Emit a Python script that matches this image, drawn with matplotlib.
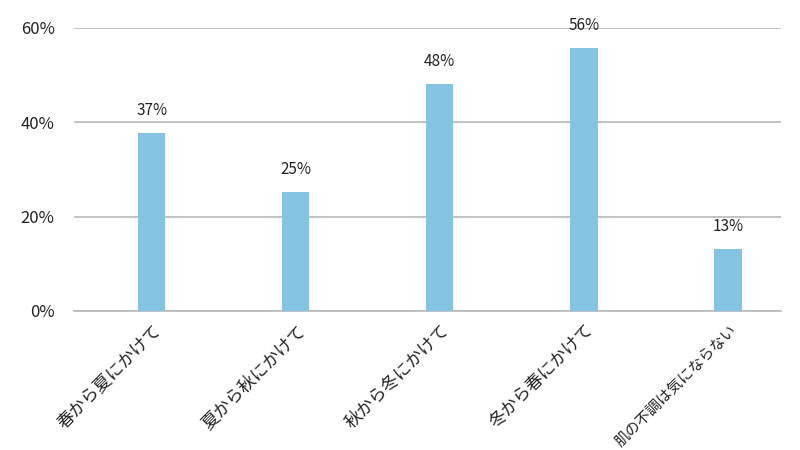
import numpy as np
import matplotlib.pyplot as plt
import matplotlib.transforms as mtransforms

plt.rcParams['font.family'] = ['Noto Sans CJK JP', 'DejaVu Sans']

categories = ['春から夏にかけて', '夏から秋にかけて', '秋から冬にかけて', '冬から春にかけて', '肌の不調は気にならない']
values = [37.7, 25.2, 48.1, 55.8, 13.1]
labels = ['37%', '25%', '48%', '56%', '13%']
yticks = [0, 20, 40, 60]

fig = plt.figure(figsize=(8, 4.5), dpi=100)
ax = fig.add_axes([0.0925, 0.309, 0.884, 0.629])

x = np.arange(len(categories))
bars = ax.bar(x, values, width=0.19, color='#85c3e3', zorder=3)

for b, lab in zip(bars, labels):
    ax.annotate(lab, (b.get_x() + b.get_width() / 2, b.get_height()),
                xytext=(0, 10), textcoords='offset points',
                ha='center', va='bottom', fontsize=11, color='#222222')

ax.set_xlim(-0.539, 4.37)
ax.set_ylim(0, 60)
ax.set_yticks(yticks)
ax.set_yticklabels([f'{v}%' for v in yticks], fontsize=12, color='#222222')
ax.yaxis.grid(True, color='#b8b8b8', linewidth=1.2, zorder=0)
ax.tick_params(axis='y', length=0, pad=14)
ax.tick_params(axis='x', length=0)
for s in ['top', 'right', 'left']:
    ax.spines[s].set_visible(False)
ax.spines['bottom'].set_color('#b8b8b8')
ax.spines['bottom'].set_linewidth(1.2)

ax.set_xticks(x)
ax.set_xticklabels([])
offset = mtransforms.ScaledTranslation(5 / 72, -12 / 72, fig.dpi_scale_trans)
trans = ax.get_xaxis_transform() + offset
sizes = [12.5, 12.5, 12.5, 12.5, 10.8]
for xi, cat, fs in zip(x, categories, sizes):
    ax.text(xi, 0, cat, transform=trans, rotation=45, rotation_mode='anchor',
            ha='right', va='center', fontsize=fs, color='#222222')

fig.savefig('out.png', dpi=100, facecolor='white')
